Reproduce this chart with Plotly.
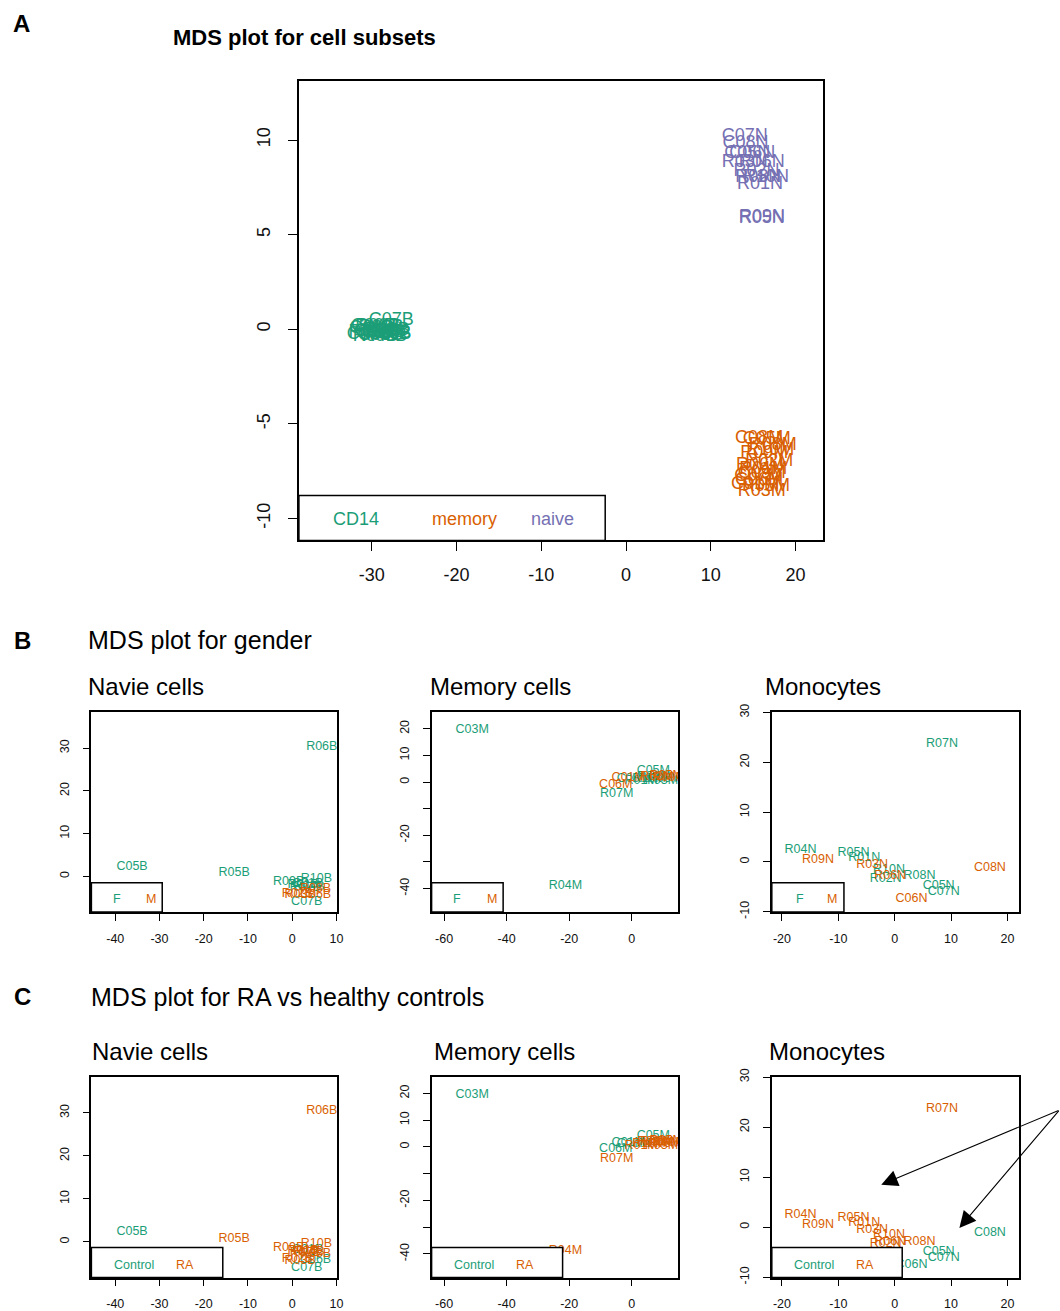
import plotly.graph_objects as go

W, H = 1060, 1311
GREEN, ORANGE, PURPLE = "#1B9E77", "#D95F02", "#7570B3"
FONT = "Liberation Sans, Arial, sans-serif"

# ---------------- Panel A: all cell subsets ----------------
cd14_names = ["C07B", "C01B", "C03B", "C05B", "C06B", "C08B", "C09B",
              "R01B", "R02B", "R03B", "R04B", "R05B", "R06B", "R08B", "R10B"]
cd14_x = [-27.7, -30.0, -29.4, -30.3, -28.6, -29.0, -29.8,
          -28.2, -30.1, -28.9, -29.6, -28.0, -29.3, -28.5, -28.0]
cd14_y = [0.48, 0.05, -0.10, -0.30, -0.15, -0.35, 0.12,
          -0.05, -0.15, 0.10, -0.40, -0.30, 0.15, -0.40, -0.25]

mem_names = ["C08M", "C05M", "R08M", "R10M", "R09M", "R02M", "R06M",
             "R01M", "C09M", "C07M", "C01M", "C06M", "R03M", "R05M"]
mem_x = [15.7, 16.6, 17.3, 17.0, 16.3, 16.9, 15.8,
         16.2, 16.0, 15.6, 15.2, 15.7, 16.0, 16.5]
mem_y = [-5.77, -5.85, -6.14, -6.40, -6.56, -6.98, -7.20,
         -7.41, -7.60, -7.78, -8.20, -8.00, -8.57, -8.30]

nai_names = ["C07N", "C08N", "C05N", "C06N", "R03N", "R06N",
             "R02N", "R10N", "R08N", "R01N", "R05N", "R09N"]
nai_x = [14.0, 14.1, 14.3, 14.9, 14.0, 16.0, 15.4, 16.5, 15.6, 15.8, 16.0, 16.05]
nai_y = [10.2, 9.8, 9.3, 9.3, 8.8, 8.8, 8.35, 8.0, 8.0, 7.65, 5.87, 5.90]

# ---------------- Panels B / C: per-subset MDS ----------------
# naive cells
nv_names = ["C05B", "R05B", "R06B", "R10B", "R09B", "R01B", "R04B",
            "C01B", "R07B", "R08B", "C06B", "R03B", "R02B", "C07B"]
nv_x = [-36.2, -13.1, 6.7, 5.5, -0.8, 2.5, 3.8, 3.5, 3.0, 5.3, 5.3, 1.8, 1.2, 3.3]
nv_y = [2.3, 0.8, 30.4, -0.5, -1.3, -2.0, -2.4, -1.8, -2.6, -2.8, -4.3, -4.4, -4.0, -6.0]
nv_sex = ["F", "F", "F", "F", "F", "F", "F", "F", "F", "M", "M", "M", "M", "F"]

# memory cells
mm_names = ["C03M", "R04M", "R07M", "C06M", "C01M", "C08M", "C05M",
            "R01M", "R10M", "R08M", "R02M", "R06M", "R03M", "R09M", "R05M"]
mm_x = [-51.0, -21.2, -4.8, -5.1, -1.1, 0.5, 6.9,
        3.0, 5.5, 7.0, 8.0, 10.5, 9.5, 12.0, 11.0]
mm_y = [19.4, -39.0, -4.4, -0.9, 1.5, 1.0, 4.1,
        0.5, 1.2, 2.0, 1.8, 1.0, 0.3, 1.5, 2.2]
mm_sex = ["F", "F", "F", "M", "M", "F", "F",
          "F", "F", "F", "M", "F", "F", "M", "M"]

# monocytes
mo_names = ["R07N", "R04N", "R09N", "R05N", "R01N", "R03N", "R10N",
            "R06N", "R02N", "R08N", "C05N", "C07N", "C06N", "C08N"]
mo_x = [8.4, -16.7, -13.6, -7.3, -5.4, -4.0, -1.0, -0.8, -1.6, 4.4, 7.8, 8.7, 3.0, 16.9]
mo_y = [23.7, 2.4, 0.4, 1.9, 0.9, -0.6, -1.5, -2.9, -3.4, -2.9, -4.9, -6.1, -7.5, -1.1]
mo_sex = ["F", "F", "M", "F", "F", "M", "F", "M", "F", "F", "F", "F", "M", "M"]

# page-pixel -> paper conversion (small correction for the rendered page scale)
SX, OX = 0.9957, -1.6
SY, OY = 0.989, 7.9


def px(x):
    return ((x - OX) / SX) / W


def py(y):
    return 1 - ((y - OY) / SY) / H


def fmt(v):
    return ("-" if v < 0 else "") + str(abs(v))


fig = go.Figure()
layout = dict(width=W, height=H, autosize=False,
              margin=dict(l=0, r=0, t=0, b=0),
              paper_bgcolor="white", plot_bgcolor="white",
              font=dict(family=FONT, color="#000"), showlegend=False)


def add_axes(n, box, xr, yr, xt, yt, ytext=None, big=False):
    x0, y0, x1, y1 = box
    fs = 18 if big else 12.5
    tl = 9 if big else 7
    sx = 8 if big else 7
    sy = 11 if big else 9
    common = dict(showgrid=False, zeroline=False, showline=True, mirror=True,
                  linecolor="#000", linewidth=1.5, ticks="outside", ticklen=tl,
                  tickwidth=1.2, tickcolor="#000",
                  tickfont=dict(family=FONT, size=fs, color="#111"),
                  tickmode="array", fixedrange=True)
    sfx = "" if n == 1 else str(n)
    layout["xaxis" + sfx] = dict(common, domain=[px(x0), px(x1)], range=xr,
                                 tickvals=xt, ticktext=[fmt(v) for v in xt],
                                 anchor="y" + sfx, ticklabelstandoff=sx)
    layout["yaxis" + sfx] = dict(common, domain=[py(y1), py(y0)], range=yr,
                                 tickvals=yt,
                                 ticktext=ytext if ytext else [fmt(v) for v in yt],
                                 anchor="x" + sfx, tickangle=-90,
                                 ticklabelstandoff=sy)
    return "x" + sfx, "y" + sfx


def add_labels(ax, names, xs, ys, colors, size):
    for col in sorted(set(colors)):
        idx = [i for i, c in enumerate(colors) if c == col]
        fig.add_trace(go.Scatter(
            x=[xs[i] for i in idx], y=[ys[i] for i in idx],
            text=[names[i] for i in idx], mode="text",
            textposition="middle center",
            textfont=dict(family=FONT, size=size, color=col),
            xaxis=ax[0], yaxis=ax[1], hoverinfo="text", cliponaxis=True))


annotations = []
shapes = []


def note(text, x, y, size, color="#000", bold=False, anchor="center"):
    if anchor == "left":
        x -= 2.5  # annotation boxes carry a little inner padding
    annotations.append(dict(
        text=f"<b>{text}</b>" if bold else text, x=px(x), y=py(y),
        xref="paper", yref="paper", showarrow=False, xanchor=anchor,
        yanchor="middle", font=dict(family=FONT, size=size, color=color)))


def legend_box(x0, y0, x1, y1):
    shapes.append(dict(type="rect", xref="paper", yref="paper",
                       x0=px(x0), x1=px(x1), y0=py(y1), y1=py(y0),
                       fillcolor="white", line=dict(color="#000", width=1.5),
                       layer="above"))


# ---- Panel A ----
axA = add_axes(1, (298, 80, 823, 540), [-38.6, 23.2], [-11.16, 13.12],
               [-30, -20, -10, 0, 10, 20], [-10, -5, 0, 5, 10], big=True)
add_labels(axA, cd14_names, cd14_x, cd14_y, [GREEN] * len(cd14_names), 18)
add_labels(axA, mem_names, mem_x, mem_y, [ORANGE] * len(mem_names), 18)
add_labels(axA, nai_names, nai_x, nai_y, [PURPLE] * len(nai_names), 18)
legend_box(298, 495, 605, 540)
note("CD14", 355, 519, 18, GREEN)
note("memory", 464, 519, 18, ORANGE)
note("naive", 552, 519, 18, PURPLE)
note("A", 20, 22, 24, bold=True)
note("MDS plot for cell subsets", 172, 36, 22, bold=True, anchor="left")

# ---- Panels B and C ----
subsets = [
    ("Navie cells", nv_names, nv_x, nv_y, nv_sex,
     [-45.4, 10.1], [-8.3, 38.4], [-40, -30, -20, -10, 0, 10], [0, 10, 20, 30], None),
    ("Memory cells", mm_names, mm_x, mm_y, mm_sex,
     [-64.0, 14.8], [-48.8, 26.2], [-60, -40, -20, 0],
     [-40, -30, -20, -10, 0, 10, 20], ["-40", "", "-20", "", "0", "10", "20"]),
    ("Monocytes", mo_names, mo_x, mo_y, mo_sex,
     [-21.8, 22.1], [-10.05, 30.05], [-20, -10, 0, 10, 20], [-10, 0, 10, 20, 30], None),
]
cols_x = [(90, 336), (431, 678), (772, 1020)]

rows = [
    dict(letter="B", title="MDS plot for gender", ty=640, tx=87,
         sub_y=686, sub_x=[87, 430, 766], box_y=(712, 912),
         leg_right=[161, 502.7, 844.3], leg_top=882.7, leg_y=899,
         keys=[("F", GREEN), ("M", ORANGE)],
         key_x=[(116, 150), (456.7, 491.7), (800.3, 832.7)], kind="sex"),
    dict(letter="C", title="MDS plot for RA vs healthy controls", ty=997, tx=90,
         sub_y=1052, sub_x=[91, 434, 770], box_y=(1077, 1278),
         leg_right=[221.7, 562.3, 902.7], leg_top=1248, leg_y=1265,
         keys=[("Control", GREEN), ("RA", ORANGE)],
         key_x=[(132.3, 184), (473.3, 525), (814, 865)], kind="group"),
]

n = 2
for row in rows:
    note(row["letter"], 21, row["ty"], 24, bold=True)
    note(row["title"], row["tx"], row["ty"], 25, anchor="left")
    for j, (name, labs, xs, ys, sex, xr, yr, xt, yt, ytext) in enumerate(subsets):
        x0, x1 = cols_x[j]
        y0, y1 = row["box_y"]
        ax = add_axes(n, (x0, y0, x1, y1), xr, yr, xt, yt, ytext)
        n += 1
        if row["kind"] == "sex":
            colors = [GREEN if s == "F" else ORANGE for s in sex]
        else:
            colors = [GREEN if lab.startswith("C") else ORANGE for lab in labs]
        add_labels(ax, labs, xs, ys, colors, 12.5)
        note(name, row["sub_x"][j], row["sub_y"], 24, anchor="left")
        legend_box(x0, row["leg_top"], row["leg_right"][j], y1)
        for (k, c), kx in zip(row["keys"], row["key_x"][j]):
            note(k, kx, row["leg_y"], 12.5, c)

# arrows pointing into the monocyte RA/control plot
tail_x, tail_y = 1064, 1111
for hx, hy in [(881.7, 1185), (960, 1228.3)]:
    annotations.append(dict(
        text="", x=px(hx), y=py(hy), xref="paper", yref="paper",
        showarrow=True, axref="pixel", ayref="pixel",
        ax=(tail_x - hx) / SX, ay=(tail_y - hy) / SY,
        arrowhead=2, arrowsize=3,
        arrowwidth=1.1, arrowcolor="#000", standoff=0))

layout["annotations"] = annotations
layout["shapes"] = shapes
fig.update_layout(**layout)
fig.write_html("out.html")
